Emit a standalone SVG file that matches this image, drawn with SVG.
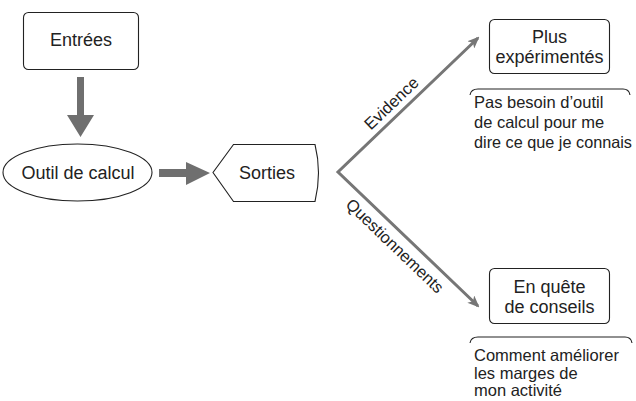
<svg xmlns="http://www.w3.org/2000/svg" width="636" height="401" viewBox="0 0 636 401">
<defs>
<style>
.box{fill:#fff;stroke:#222;stroke-width:1.1}
.nt{font-family:"Liberation Sans",Arial,sans-serif;font-size:18px;fill:#222;text-anchor:middle}
.bt{font-family:"Liberation Sans",Arial,sans-serif;font-size:16.5px;fill:#222}
.lbl{font-family:"Liberation Sans",Arial,sans-serif;font-size:16.5px;fill:#222;text-anchor:middle}
.big{fill:#6f6f6f;stroke:none}
.conn{fill:none;stroke:#767676;stroke-width:3;stroke-linejoin:miter}
.brace{fill:none;stroke:#222;stroke-width:1.1}
</style>
<marker id="ah" viewBox="0 0 12 10" refX="10" refY="5" markerWidth="12" markerHeight="10" markerUnits="userSpaceOnUse" orient="auto-start-reverse">
<path d="M0,0 L12,5 L0,10 L3,5 Z" fill="#767676"/>
</marker>
</defs>
<rect width="636" height="401" fill="#fff"/>
<g id="connectors">
<polygon class="big" points="77,77 84,77 84,115 94,115 80.5,137 67,115 77,115"/>
<polygon class="big" points="159,169 186,169 186,162 210,173 186,185 186,177 159,177"/>
<polyline class="conn" points="478,38 338,172 478,306" marker-start="url(#ah)" marker-end="url(#ah)"/>
<text class="lbl" transform="translate(395.3,107.4) rotate(-43.7)">Evidence</text>
<text class="lbl" transform="translate(391,250) rotate(43.7)" textLength="128" lengthAdjust="spacingAndGlyphs">Questionnements</text>
</g>
<g id="entrees">
<rect class="box" x="23.5" y="12.5" width="115" height="57" rx="5"/>
<text class="nt" x="81" y="46">Entrées</text>
</g>
<g id="outil">
<ellipse class="box" cx="77.5" cy="172.5" rx="74.5" ry="28.5"/>
<text class="nt" x="78" y="179">Outil de calcul</text>
</g>
<g id="sorties">
<path class="box" d="M233.5,144.5 L315,144.5 Q322,172.5 315,201.5 L233.5,201.5 L213,172.5 Z"/>
<text class="nt" x="267" y="179">Sorties</text>
</g>
<g id="plus">
<rect class="box" x="489.5" y="19.5" width="120" height="54" rx="5"/>
<text class="nt" x="549.5" y="43">Plus</text>
<text class="nt" x="549.5" y="63">expérimentés</text>
<path class="brace" d="M470,95 Q471,89 478,89 L623,89 Q629,89 630,95"/>
<text class="bt" x="474" y="108">Pas besoin d’outil</text>
<text class="bt" x="474" y="128">de calcul pour me</text>
<text class="bt" x="474" y="148" textLength="158" lengthAdjust="spacingAndGlyphs">dire ce que je connais</text>
</g>
<g id="quete">
<rect class="box" x="489.5" y="268.5" width="120" height="55" rx="5"/>
<text class="nt" x="549.5" y="293">En quête</text>
<text class="nt" x="549.5" y="313">de conseils</text>
<path class="brace" d="M470,343 Q471,337 478,337 L625,337 Q631,337 632,343"/>
<text class="bt" x="474" y="361">Comment améliorer</text>
<text class="bt" x="474" y="379">les marges de</text>
<text class="bt" x="474" y="396">mon activité</text>
</g>
</svg>
